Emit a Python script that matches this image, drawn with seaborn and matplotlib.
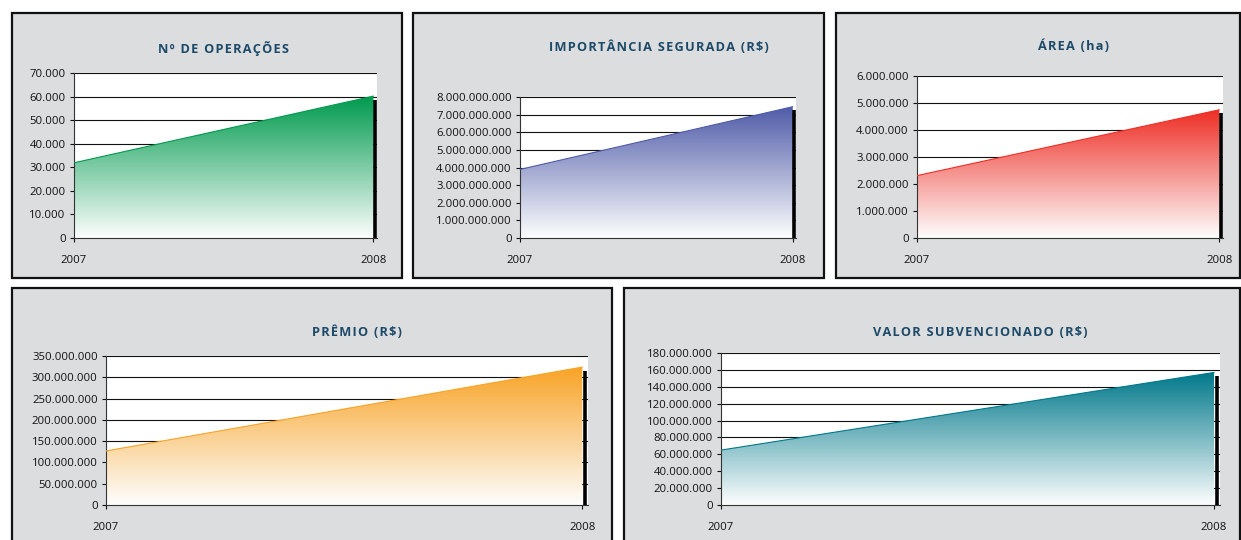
import numpy as np
import pandas as pd
import matplotlib
matplotlib.use("Agg")
import matplotlib.pyplot as plt
import seaborn as sns
from matplotlib.colors import LinearSegmentedColormap
from matplotlib.patches import Rectangle, PathPatch

# data
years = [2007, 2008]
operacoes = [31900, 60200]
importancia = [3.89e9, 7.45e9]
area = [2.31e6, 4.75e6]
premio = [127e6, 324e6]
subvencao = [65e6, 157e6]

titles = ["Nº DE OPERAÇÕES", "IMPORTÂNCIA SEGURADA (R$)", "ÁREA (ha)",
          "PRÊMIO (R$)", "VALOR SUBVENCIONADO (R$)"]
series = [operacoes, importancia, area, premio, subvencao]
yticks = [np.arange(0, 70001, 10000), np.arange(0, 8e9 + 1, 1e9),
          np.arange(0, 6e6 + 1, 1e6), np.arange(0, 350e6 + 1, 50e6),
          np.arange(0, 180e6 + 1, 20e6)]
colors = ["#009a4e", "#4f5ba8", "#ee2d24", "#f8a326", "#00788a"]

# layout in pixels: panel box (x0, y0, x1, y1), plot area (x0, y0, x1, y1), title centre
W, H = 1241, 540
boxes = [(12, 13, 402, 278), (413, 13, 824, 278), (836, 13, 1240, 278),
         (12, 288, 612, 545), (624, 288, 1240, 545)]
plots = [(74, 73, 377, 238), (520, 97, 796, 238), (917, 76, 1223, 238),
         (106, 356, 588, 505), (721, 353, 1220, 505)]
title_pos = [(224, 48), (659, 47), (1074, 46), (357, 332), (980, 333)]

sns.set_style("white")
plt.rcParams['font.family'] = ['Open Sans', 'DejaVu Sans']

fig = plt.figure(figsize=(W / 100, H / 100), dpi=100)
fig.patch.set_facecolor("white")

def fmt(v):
    return f"{int(round(v)):,}".replace(",", ".")

for i in range(5):
    bx0, by0, bx1, by1 = boxes[i]
    fig.add_artist(Rectangle((bx0 / W, 1 - by1 / H), (bx1 - bx0) / W, (by1 - by0) / H,
                             transform=fig.transFigure, facecolor="#dcdddf",
                             edgecolor="#111111", linewidth=1.6, zorder=0))
    tx, ty = title_pos[i]
    fig.text(tx / W, 1 - ty / H, "\u200a".join(titles[i]), ha="center", va="center",
             fontsize=9.2, fontweight="bold", color="#1c4a68")

    px0, py0, px1, py1 = plots[i]
    ax = fig.add_axes([px0 / W, 1 - py1 / H, (px1 - px0) / W, (py1 - py0) / H])
    ax.set_facecolor("white")
    df = pd.DataFrame({"ano": years, "valor": series[i]})
    vals = df["valor"].to_numpy()
    ymax = yticks[i][-1]

    # gradient area
    fill = ax.fill_between(df["ano"], 0, vals, facecolor="none", edgecolor="none", zorder=2)
    clip = PathPatch(fill.get_paths()[0], transform=ax.transData,
                     facecolor="none", edgecolor="none")
    ax.add_patch(clip)
    cmap = LinearSegmentedColormap.from_list("g", ["#fdfefe", colors[i]])
    grad = np.linspace(0, 1, 256).reshape(-1, 1)
    im = ax.imshow(grad, extent=[years[0], years[-1], 0, vals.max()], origin="lower",
                   aspect="auto", cmap=cmap, zorder=2)
    im.set_clip_path(clip)
    sns.lineplot(data=df, x="ano", y="valor", ax=ax, color=colors[i], lw=0.8, zorder=3)

    # black shadow bar at the last year
    ax.vlines(years[-1] + 0.005, 0, vals[-1] * 0.975, color="black", lw=2.6,
              zorder=10, clip_on=False)

    ax.set_xlim(years[0], years[-1] + 0.012)
    ax.set_ylim(0, ymax)
    ax.set_yticks(yticks[i])
    ax.set_yticklabels([fmt(v) for v in yticks[i]])
    ax.set_xticks(years)
    ax.set_xticklabels([str(y) for y in years])
    ax.set_xlabel("")
    ax.set_ylabel("")
    ax.yaxis.grid(True, color="#111111", lw=0.8)
    ax.set_axisbelow(True)
    for s in ["top", "right"]:
        ax.spines[s].set_visible(False)
    ax.spines["left"].set_color("#333333")
    ax.spines["left"].set_linewidth(0.8)
    ax.spines["bottom"].set_color("#333333")
    ax.spines["bottom"].set_linewidth(0.8)
    ax.tick_params(axis="y", direction="out", length=3, width=0.8, color="#111111",
                   labelsize=8.2, pad=3, left=True, labelcolor="#111111")
    ax.tick_params(axis="x", direction="out", length=3, width=0.8, color="#111111",
                   labelsize=8.2, pad=9, bottom=True, labelcolor="#111111")

fig.savefig("out.png", dpi=100)
